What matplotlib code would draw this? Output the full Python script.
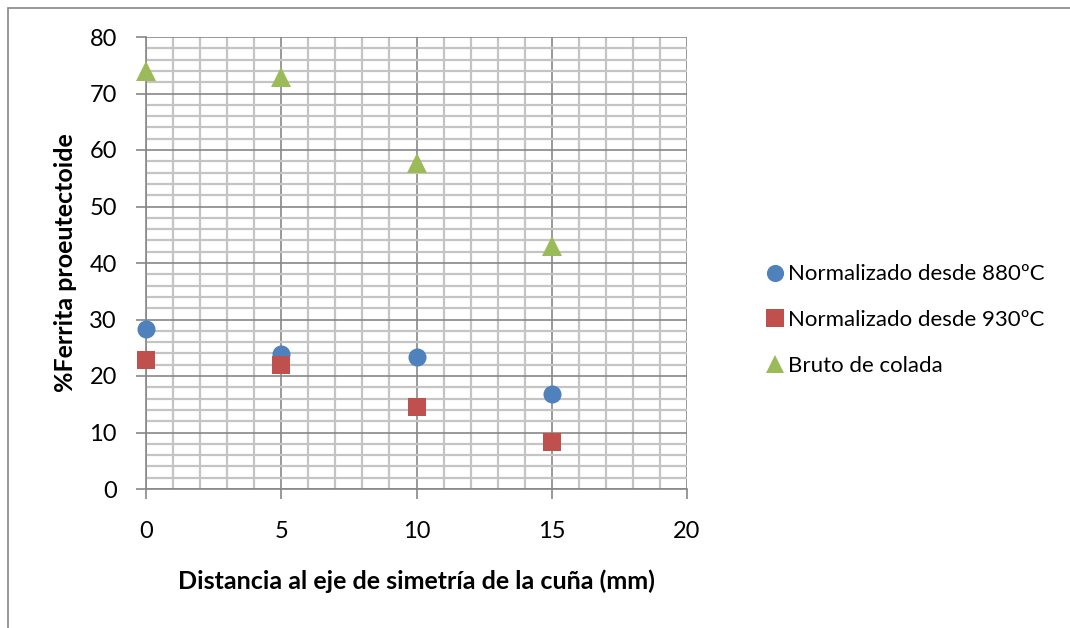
import matplotlib.pyplot as plt
from matplotlib.patches import Rectangle
from matplotlib.ticker import MultipleLocator

plt.rcParams['font.family'] = ['Lato', 'DejaVu Sans']

distancia = [0, 5, 10, 15]
norm_880 = [28.3, 23.9, 23.4, 16.8]
norm_930 = [22.8, 21.9, 14.5, 8.4]
bruto = [74.0, 73.0, 57.7, 43.0]

series = [
    (norm_880, 'Normalizado desde 880ºC', '#4f81bd', 'o', 13),
    (norm_930, 'Normalizado desde 930ºC', '#c0504d', 's', 13),
    (bruto, 'Bruto de colada', '#9bbb59', '^', 14),
]

fig = plt.figure(figsize=(10.7, 6.28), dpi=100)
ax = fig.add_axes([146 / 1070, 1 - 489 / 628, 541 / 1070, 452 / 628])

# chart frame
fig.patches.append(Rectangle((8 / 1070, -0.1), 1.2, 1 - 8 / 628 + 0.1,
                             transform=fig.transFigure, fill=False,
                             edgecolor='#868686', linewidth=1.2))

for vals, label, color, marker, ms in series:
    ax.plot(distancia, vals, linestyle='none', marker=marker, markersize=ms,
            color=color, markeredgewidth=0, label=label, clip_on=False, zorder=5)

ax.set_xlim(0, 20)
ax.set_ylim(0, 80)
ax.xaxis.set_major_locator(MultipleLocator(5))
ax.xaxis.set_minor_locator(MultipleLocator(1))
ax.yaxis.set_major_locator(MultipleLocator(10))
ax.yaxis.set_minor_locator(MultipleLocator(2))

ax.grid(which='minor', color='#c4c4c4', linewidth=1.6)
ax.grid(which='major', color='#878787', linewidth=1.2)
ax.set_axisbelow(True)

for side in ['top', 'right']:
    ax.spines[side].set_visible(False)
for side in ['left', 'bottom']:
    ax.spines[side].set_color('#878787')
    ax.spines[side].set_linewidth(1.2)

ax.tick_params(which='major', length=7, width=1.2, color='#878787',
               labelsize=17, labelcolor='black')
ax.tick_params(axis='y', which='major', pad=14)
ax.tick_params(axis='x', which='major', pad=16)
ax.tick_params(which='minor', length=0)

ax.set_ylabel('%Ferrita proeutectoide', fontsize=18, fontweight='bold', labelpad=9)
ax.set_xlabel('Distancia al eje de simetría de la cuña (mm)', fontsize=18,
              fontweight='bold', labelpad=20)

ax.legend(loc='center left', bbox_to_anchor=(768 / 1070, 1 - 320 / 628),
          bbox_transform=fig.transFigure, frameon=False, fontsize=16,
          handlelength=0.6, handletextpad=0.3, labelspacing=1.15,
          borderaxespad=0, borderpad=0, markerscale=0.95)

fig.savefig('out.png', dpi=100)
